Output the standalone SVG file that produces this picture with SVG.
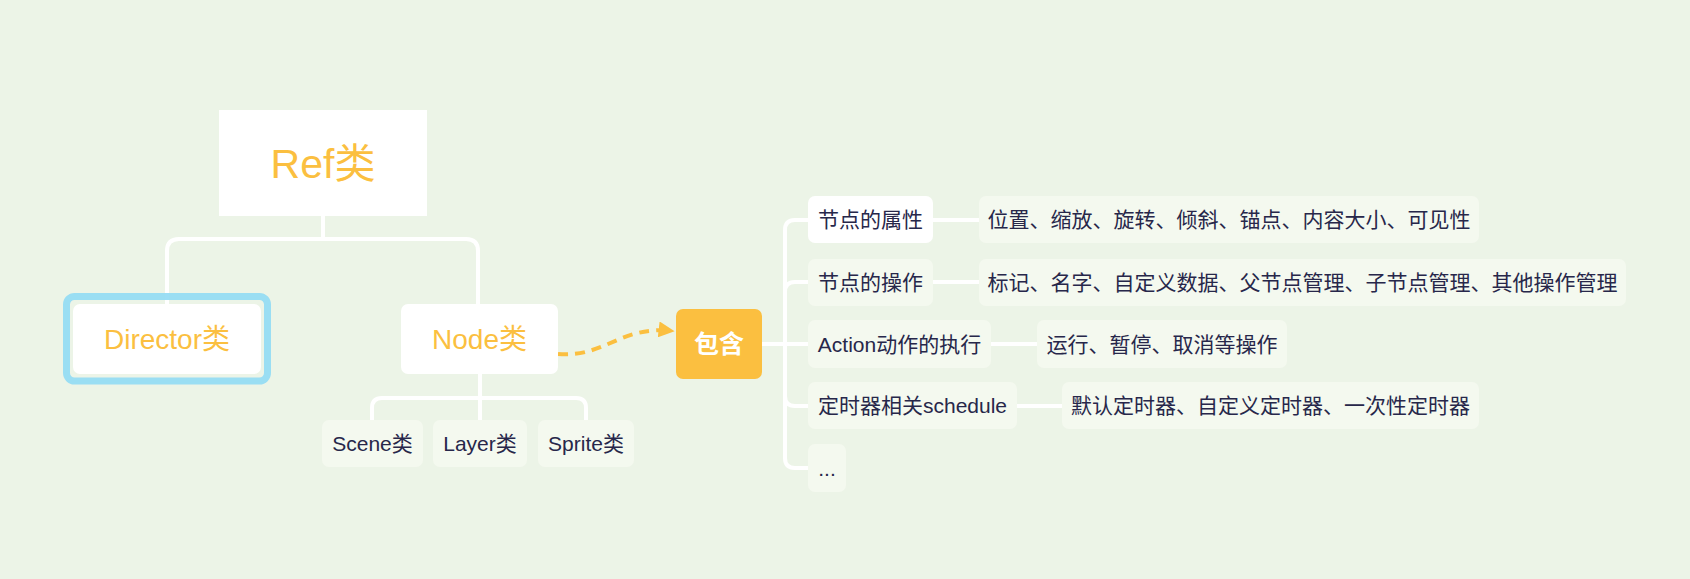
<svg xmlns="http://www.w3.org/2000/svg" width="1690" height="579" viewBox="0 0 1690 579">
<style>
text{font-family:"Liberation Sans","Noto Sans CJK SC",sans-serif;}
.conn{fill:none;stroke:#ffffff;stroke-width:4;stroke-linecap:round;stroke-linejoin:round;}
.leaf{fill:#f4f9ef;}
.white{fill:#ffffff;}
.t{font-size:21px;fill:#27274a;text-anchor:middle;}
.big{fill:#fbbf40;text-anchor:middle;}
</style>
<defs>
<marker id="arr" viewBox="0 0 10 10" refX="9" refY="5" markerWidth="4" markerHeight="4" markerUnits="strokeWidth" orient="auto">
<path d="M0,0 L10,5 L0,10 Z" fill="#fbbf40"/>
</marker>
</defs>
<rect width="1690" height="579" fill="#ecf4e7"/>

<g id="connectors">
<path class="conn" d="M323,216 V239"/>
<path class="conn" d="M167,304 V251 Q167,239 179,239 H466 Q478,239 478,251 V304"/>
<path class="conn" d="M480,373 V398"/>
<path class="conn" d="M372,420 V408 Q372,398 382,398 H576 Q586,398 586,408 V420"/>
<path class="conn" d="M480,398 V420"/>
<path class="conn" d="M762,344 H785"/>
<path class="conn" d="M785,344 V230 Q785,220 795,220 H808"/>
<path class="conn" d="M785,344 V292 Q785,282 795,282 H808"/>
<path class="conn" d="M785,344 H808"/>
<path class="conn" d="M785,344 V396 Q785,406 795,406 H808"/>
<path class="conn" d="M785,344 V458 Q785,468 795,468 H808"/>
<path class="conn" d="M933,220 H979"/>
<path class="conn" d="M933,282 H979"/>
<path class="conn" d="M991,344 H1037"/>
<path class="conn" d="M1017,406 H1062"/>
<path d="M558,354 C605,358 620,325 673,331" fill="none" stroke="#fbbf40" stroke-width="4" stroke-dasharray="10 7" marker-end="url(#arr)"/>
</g>

<g id="node-ref">
<rect x="219" y="110" width="208" height="106" fill="#ffffff"/>
<text class="big" x="323" y="178" font-size="41">Ref类</text>
</g>

<g id="node-director">
<rect x="66.5" y="296.5" width="201" height="84.5" rx="8" fill="none" stroke="#93dbf4" stroke-width="7" stroke-opacity="0.92"/>
<rect x="73" y="304" width="188" height="70" rx="7" class="white"/>
<text class="big" x="167" y="349" font-size="28">Director类</text>
</g>

<g id="node-node">
<rect x="401" y="304" width="157" height="70" rx="7" class="white"/>
<text class="big" x="479.5" y="349" font-size="28">Node类</text>
</g>

<g id="node-scene">
<rect x="322" y="420" width="101" height="47" rx="7" class="leaf"/>
<text class="t" x="372.5" y="451">Scene类</text>
</g>
<g id="node-layer">
<rect x="433" y="420" width="94" height="47" rx="7" class="leaf"/>
<text class="t" x="480" y="451">Layer类</text>
</g>
<g id="node-sprite">
<rect x="538" y="420" width="96" height="47" rx="7" class="leaf"/>
<text class="t" x="586" y="451">Sprite类</text>
</g>

<g id="node-contain">
<rect x="676" y="309" width="86" height="70" rx="7" fill="#fbbf40"/>
<text x="719" y="353" font-size="25" font-weight="bold" fill="#ffffff" text-anchor="middle">包含</text>
</g>

<g id="node-attr">
<rect x="808" y="196" width="125" height="47" rx="7" class="white"/>
<text class="t" x="870.5" y="227">节点的属性</text>
</g>
<g id="node-ops">
<rect x="808" y="259" width="125" height="47" rx="7" class="leaf"/>
<text class="t" x="870.5" y="290">节点的操作</text>
</g>
<g id="node-action">
<rect x="808" y="320" width="183" height="48" rx="7" class="leaf"/>
<text class="t" x="899.5" y="351.5">Action动作的执行</text>
</g>
<g id="node-schedule">
<rect x="808" y="382" width="209" height="47" rx="7" class="leaf"/>
<text class="t" x="912.5" y="413">定时器相关schedule</text>
</g>
<g id="node-more">
<rect x="808" y="444" width="38" height="48" rx="7" class="leaf"/>
<text class="t" x="827" y="475.5">...</text>
</g>

<g id="node-attr-detail">
<rect x="979" y="196" width="500" height="47" rx="7" class="leaf"/>
<text class="t" x="1229" y="227">位置、缩放、旋转、倾斜、锚点、内容大小、可见性</text>
</g>
<g id="node-ops-detail">
<rect x="979" y="259" width="647" height="47" rx="7" class="leaf"/>
<text class="t" x="1302.5" y="290">标记、名字、自定义数据、父节点管理、子节点管理、其他操作管理</text>
</g>
<g id="node-action-detail">
<rect x="1037" y="320" width="250" height="48" rx="7" class="leaf"/>
<text class="t" x="1162" y="351.5">运行、暂停、取消等操作</text>
</g>
<g id="node-schedule-detail">
<rect x="1062" y="382" width="417" height="47" rx="7" class="leaf"/>
<text class="t" x="1270.5" y="413">默认定时器、自定义定时器、一次性定时器</text>
</g>
</svg>
